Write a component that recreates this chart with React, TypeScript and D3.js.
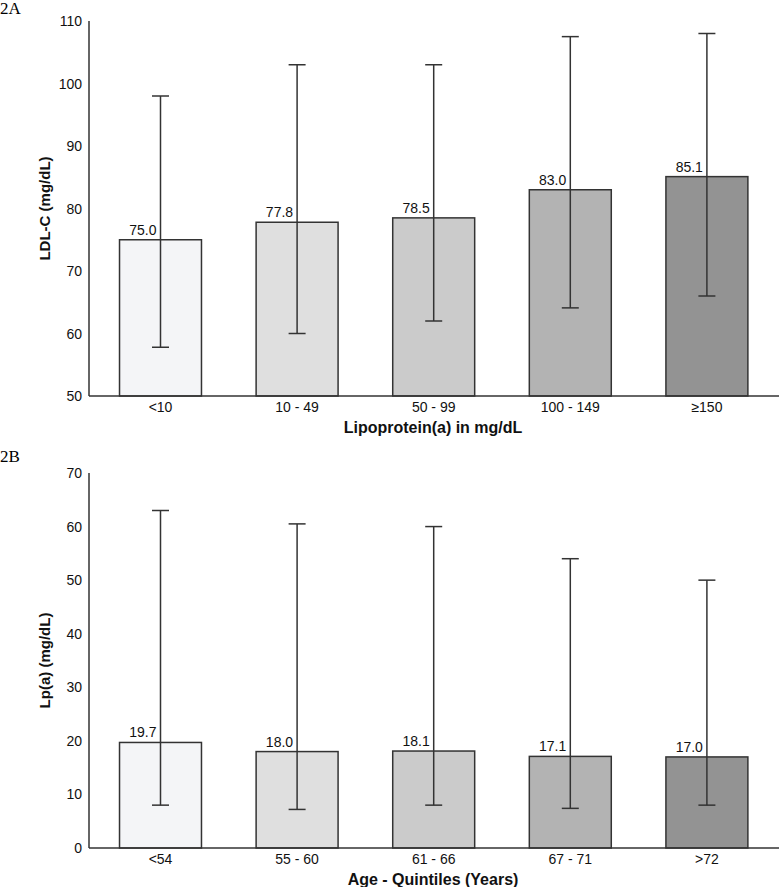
import React from "react";
import * as d3 from "d3";

const categoriesA = ["<10", "10 - 49", "50 - 99", "100 - 149", "≥150"];
const meansA = [75.0, 77.8, 78.5, 83.0, 85.1];
const lowA = [57.8, 60.0, 62.0, 64.1, 66.0];
const highA = [98.0, 103.0, 103.0, 107.5, 108.0];
const ticksA = [50, 60, 70, 80, 90, 100, 110];

const categoriesB = ["<54", "55 - 60", "61 - 66", "67 - 71", ">72"];
const meansB = [19.7, 18.0, 18.1, 17.1, 17.0];
const lowB = [8.0, 7.2, 8.0, 7.4, 8.0];
const highB = [63.0, 60.5, 60.0, 54.0, 50.0];
const ticksB = [0, 10, 20, 30, 40, 50, 60, 70];

const barColors = ["#f4f5f7", "#dfdfdf", "#cbcbcb", "#b3b3b3", "#939393"];

const FONT = "'Liberation Sans', Arial, sans-serif";
const INK = "#333333";

type PanelProps = {
  cats: string[];
  means: number[];
  low: number[];
  high: number[];
  ticks: number[];
  domain: [number, number];
  top: number;
  bottom: number;
  yTitle: string;
  xTitle: string;
  panelLabel: string;
  panelLabelY: number;
};

function Panel(p: PanelProps) {
  const axisX = 89;
  const axisRight = 779;
  const x = d3
    .scaleBand<string>()
    .domain(p.cats)
    .range([92.2, 775.2])
    .paddingInner(0.4)
    .paddingOuter(0.2);
  const y = d3.scaleLinear().domain(p.domain).range([p.bottom, p.top]);
  const cap = 8.5;
  const midY = (p.top + p.bottom) / 2;
  return (
    <g>
      <text x={0} y={p.panelLabelY} fontFamily="'Liberation Serif', 'Times New Roman', serif" fontSize={17} fill="#000">
        {p.panelLabel}
      </text>
      {p.cats.map((c, i) => {
        const x0 = x(c)!;
        const cx = x0 + x.bandwidth() / 2;
        return (
          <g key={c}>
            <rect
              x={x0}
              y={y(p.means[i])}
              width={x.bandwidth()}
              height={y(p.domain[0]) - y(p.means[i])}
              fill={barColors[i]}
              stroke={INK}
              strokeWidth={1.5}
            />
            <line x1={cx} x2={cx} y1={y(p.low[i])} y2={y(p.high[i])} stroke={INK} strokeWidth={1.5} />
            <line x1={cx - cap} x2={cx + cap} y1={y(p.high[i])} y2={y(p.high[i])} stroke={INK} strokeWidth={1.5} />
            <line x1={cx - cap} x2={cx + cap} y1={y(p.low[i])} y2={y(p.low[i])} stroke={INK} strokeWidth={1.5} />
            <text x={cx - 4} y={y(p.means[i]) - 5} textAnchor="end" fontFamily={FONT} fontSize={14} fill="#111">
              {p.means[i].toFixed(1)}
            </text>
            <text x={cx} y={p.bottom + 16} textAnchor="middle" fontFamily={FONT} fontSize={14} fill="#111">
              {c}
            </text>
          </g>
        );
      })}
      <line x1={axisX} x2={axisX} y1={p.top} y2={p.bottom} stroke={INK} strokeWidth={1.5} />
      <line x1={axisX} x2={axisRight} y1={p.bottom} y2={p.bottom} stroke={INK} strokeWidth={1.5} />
      {p.ticks.map((t) => (
        <text key={t} x={82} y={y(t) + 5} textAnchor="end" fontFamily={FONT} fontSize={14} fill="#111">
          {t}
        </text>
      ))}
      <text
        transform={`translate(50,${midY}) rotate(-90)`}
        textAnchor="middle"
        fontFamily={FONT}
        fontSize={15}
        fontWeight="bold"
        fill="#111"
      >
        {p.yTitle}
      </text>
      <text x={433} y={p.bottom + 37} textAnchor="middle" fontFamily={FONT} fontSize={16} fontWeight="bold" fill="#111">
        {p.xTitle}
      </text>
    </g>
  );
}

export default function App() {
  return (
    <svg
      width={784}
      height={887}
      style={{ position: "absolute", left: 0, top: 0, background: "#fff" }}
    >
      <rect x={0} y={0} width={784} height={887} fill="#fff" />
      <Panel
        cats={categoriesA}
        means={meansA}
        low={lowA}
        high={highA}
        ticks={ticksA}
        domain={[50, 110]}
        top={21}
        bottom={396}
        yTitle="LDL-C (mg/dL)"
        xTitle="Lipoprotein(a) in mg/dL"
        panelLabel="2A"
        panelLabelY={14}
      />
      <Panel
        cats={categoriesB}
        means={meansB}
        low={lowB}
        high={highB}
        ticks={ticksB}
        domain={[0, 70]}
        top={473}
        bottom={848}
        yTitle="Lp(a) (mg/dL)"
        xTitle="Age - Quintiles (Years)"
        panelLabel="2B"
        panelLabelY={462}
      />
    </svg>
  );
}
